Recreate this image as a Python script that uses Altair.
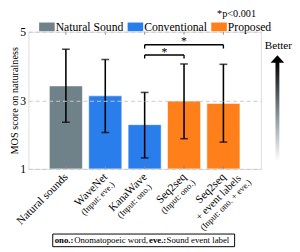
import altair as alt
import pandas as pd

# ---- data ----
idx = [0, 1, 2, 3, 4]
groups = ["Natural Sound", "Conventional", "Conventional", "Proposed", "Proposed"]
means = [3.42, 3.13, 2.29, 2.98, 2.91]
lows = [2.36, 2.06, 1.32, 1.88, 1.78]
highs = [4.49, 4.19, 3.23, 4.06, 4.05]

legend_names = ["Natural Sound", "Conventional", "Proposed"]
legend_colors = ["#6f8289", "#2a7eeb", "#ff7f1a"]

# tick label lines: (bar index, text, role)
label_idx = [0, 1, 1, 2, 2, 3, 3, 4, 4, 4]
label_txt = ["Natural sounds", "WaveNet", "(Input: eve.)", "KanaWave", "(Input: ono.)",
             "Seq2seq", "(Input: ono.)", "Seq2seq", "+ event labels", "(Input: ono. + eve.)"]
label_role = ["main", "main", "sub", "main", "sub", "main", "sub", "main", "line2", "sub"]

# significance brackets
br_x1 = [2, 2]
br_x2 = [3, 4]
br_y = [4.32, 4.62]
br_ybot = [4.22, 4.51]
star_x = [2.5, 3.0]
star_y = [4.42, 4.73]

y_ticks = [1, 2, 3, 4, 5]

W, H = 239, 141
FONT = "Liberation Serif"

bars_df = pd.DataFrame({"i": idx, "group": groups, "mean": means, "low": lows, "high": highs})
labels_df = pd.DataFrame({"i": label_idx, "t": label_txt, "role": label_role})
br_df = pd.DataFrame({"x1": br_x1, "x2": br_x2, "y": br_y, "yb": br_ybot})
star_df = pd.DataFrame({"x": star_x, "y": star_y})
one_df = pd.DataFrame({"a": [0]})

xs = alt.Scale(domain=[-0.828, 4.828], nice=False, zero=False)
ys = alt.Scale(domain=[1, 5], nice=False, zero=False)

base = alt.Chart(bars_df)

bars = base.mark_bar(size=34, stroke="#ffffff", strokeOpacity=0.55, strokeWidth=1).encode(
    x=alt.X("i:Q", scale=xs, axis=None),
    y=alt.Y("mean:Q", scale=ys,
            axis=alt.Axis(values=y_ticks, title="MOS score on naturalness", grid=True,
                          gridColor="#c8c8c8", gridDash=[4, 3], gridWidth=1, zindex=1,
                          domain=False, ticks=False, labelFontSize=12, labelPadding=3,
                          labelColor="#000", titleFontSize=10.5, titleFontWeight="normal",
                          titleColor="#000", titlePadding=0, labelFont=FONT, titleFont=FONT)),
    y2=alt.datum(1),
    color=alt.Color("group:N",
                    scale=alt.Scale(domain=legend_names, range=legend_colors),
                    legend=alt.Legend(title=None, orient="none", direction="horizontal",
                                      legendX=11, legendY=-13, labelFont=FONT, labelFontSize=12,
                                      labelColor="#000", labelOffset=1, columnPadding=4,
                                      symbolType="M-1,-0.56H1V0.56H-1Z", symbolSize=256,
                                      symbolStrokeWidth=0, symbolOpacity=1)),
)

err_rule = base.mark_rule(color="black", strokeWidth=1.6).encode(
    x=alt.X("i:Q", scale=xs), y=alt.Y("low:Q", scale=ys), y2="high:Q")
cap_lo = base.mark_tick(color="black", size=8, thickness=1.6, orient="horizontal").encode(
    x=alt.X("i:Q", scale=xs), y=alt.Y("low:Q", scale=ys))
cap_hi = base.mark_tick(color="black", size=8, thickness=1.6, orient="horizontal").encode(
    x=alt.X("i:Q", scale=xs), y=alt.Y("high:Q", scale=ys))

top_ticks = base.mark_rule(color="#888", strokeWidth=1).encode(
    x=alt.X("i:Q", scale=xs), y=alt.value(0), y2=alt.value(3))
bot_ticks = base.mark_rule(color="#888", strokeWidth=1).encode(
    x=alt.X("i:Q", scale=xs), y=alt.value(H - 3), y2=alt.value(H))

brc = alt.Chart(br_df)
br_h = brc.mark_rule(color="black", strokeWidth=1.4).encode(
    x=alt.X("x1:Q", scale=xs), x2="x2:Q", y=alt.Y("y:Q", scale=ys))
br_l = brc.mark_rule(color="black", strokeWidth=1.4).encode(
    x=alt.X("x1:Q", scale=xs), y=alt.Y("y:Q", scale=ys), y2="yb:Q")
br_r = brc.mark_rule(color="black", strokeWidth=1.4).encode(
    x=alt.X("x2:Q", scale=xs), y=alt.Y("y:Q", scale=ys), y2="yb:Q")
stars = alt.Chart(star_df).mark_text(text="*", font=FONT, fontSize=12, baseline="middle",
                                     color="black").encode(
    x=alt.X("x:Q", scale=xs), y=alt.Y("y:Q", scale=ys))

# ---- rotated tick labels (angle -45). First line right-aligned at the tick,
# following lines centred on the first line (offsets in the rotated frame).
ANG = 315
MAIN_FS = 11.5
label_layers = [
    alt.Chart(labels_df).transform_filter(alt.datum.role == "main").mark_text(
        font=FONT, fontSize=MAIN_FS, angle=ANG, align="right", baseline="middle",
        dx=1, dy=0, color="black").encode(
        x=alt.X("i:Q", scale=xs), y=alt.value(H + 7.5), text="t:N")
]
# half-widths of the first lines (centring offsets), per bar index
half_main = {1: -21.7, 2: -25.5, 3: -19.2, 4: -19.2}
centred = [(1, "sub", 10.6, 9), (2, "sub", 10.6, 9), (3, "sub", 10.6, 9),
           (4, "line2", 12.3, 11), (4, "sub", 22.5, 9)]
for i_, role, dy, fs in centred:
    label_layers.append(
        alt.Chart(labels_df).transform_filter(
            (alt.datum.i == i_) & (alt.datum.role == role)).mark_text(
            font=FONT, fontSize=fs, angle=ANG, align="center", baseline="middle",
            dx=half_main[i_], dy=dy, color="black").encode(
            x=alt.X("i:Q", scale=xs), y=alt.value(H + 7.5), text="t:N")
    )

note_df = pd.DataFrame({"t": ["ono.:", "Onomatopoeic word,", "eve.:", "Sound event label"],
                        "w": ["bold", "normal", "bold", "normal"],
                        "px": [27, 47, 124, 142]})
note_box = alt.Chart(one_df).mark_rect(fill="white", stroke="black", strokeWidth=1).encode(
    x=alt.value(25), x2=alt.value(212), y=alt.value(208), y2=alt.value(221))
note_layers = []
for wgt in ["bold", "normal"]:
    note_layers.append(
        alt.Chart(note_df).transform_filter(alt.datum.w == wgt).mark_text(
            font=FONT, fontSize=9, fontWeight=wgt, align="left", baseline="middle",
            color="black").encode(x=alt.X("px:Q", scale=None), y=alt.value(214.5), text="t:N"))

pnote = alt.Chart(one_df).mark_text(text="*p<0.001", font=FONT, fontSize=10.5, align="right",
                                    baseline="alphabetic", color="black").encode(
    x=alt.value(234), y=alt.value(-15))

grad = {"gradient": "linear", "x1": 0, "y1": 1, "x2": 0, "y2": 0,
        "stops": [{"offset": 0, "color": "#ffffff"}, {"offset": 0.45, "color": "#8a969c"},
                  {"offset": 1, "color": "#000000"}]}
shaft = alt.Chart(one_df).mark_rect(fill=grad).encode(
    x=alt.value(254), x2=alt.value(258), y=alt.value(31), y2=alt.value(133))
head = alt.Chart(one_df).mark_point(shape="M-1,0.55L0,-0.55L1,0.55Z", size=196, filled=True,
                                    color="black", opacity=1).encode(
    x=alt.value(256), y=alt.value(28))
better = alt.Chart(one_df).mark_text(text="Better", font=FONT, fontSize=11.5, align="center",
                                     baseline="middle", color="black").encode(
    x=alt.value(257), y=alt.value(15))

chart = alt.layer(
    bars, err_rule, cap_lo, cap_hi, top_ticks, bot_ticks, br_h, br_l, br_r, stars,
    *label_layers, note_box, *note_layers, pnote, shaft, head, better
).properties(
    width=W, height=H,
    autosize=alt.AutoSizeParams(type="none"),
    padding={"left": 21, "top": 21, "right": 32, "bottom": 80},
).configure_view(stroke="#8c8c8c", strokeWidth=1).configure(font=FONT)

chart.save("out.html", embed_options={"renderer": "svg", "actions": False})
